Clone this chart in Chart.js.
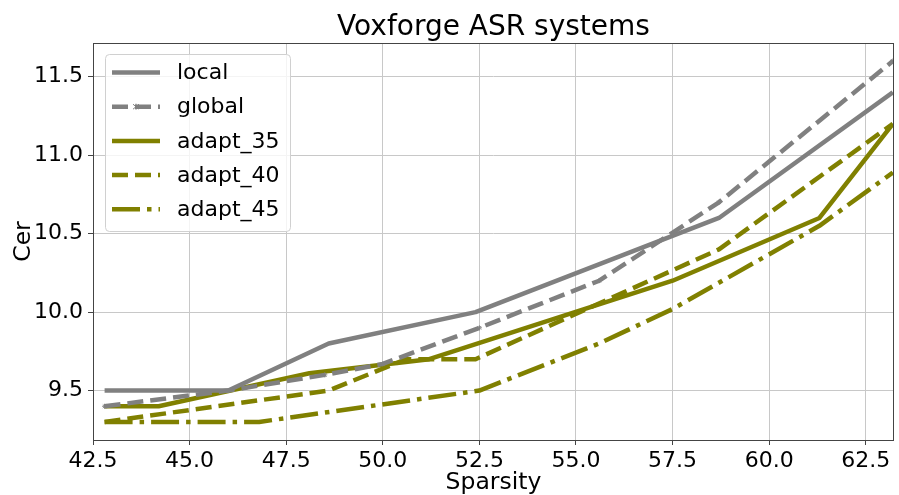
<!DOCTYPE html>
<html>
<head>
<meta charset="utf-8">
<script src="https://cdn.jsdelivr.net/npm/chart.js@4.4.0/dist/chart.umd.min.js"></script>
<style>
  html, body { margin: 0; padding: 0; background: #fff; }
  #wrap { width: 899px; height: 495px; }
</style>
</head>
<body>
<div id="wrap"><canvas id="chart" width="899" height="495"></canvas></div>
<script>
// tick labels
const xTicks = [42.5, 45.0, 47.5, 50.0, 52.5, 55.0, 57.5, 60.0, 62.5];
const yTicks = [9.5, 10.0, 10.5, 11.0, 11.5];

// series (sparsity -> cer)
const localX = [42.8, 46.0, 48.6, 52.4, 58.7, 63.2];
const localY = [9.5, 9.5, 9.8, 10.0, 10.6, 11.4];

const globalX = [42.8, 46.0, 48.5, 50.0, 52.5, 55.6, 58.7, 63.2];
const globalY = [9.4, 9.5, 9.6, 9.67, 9.9, 10.2, 10.7, 11.6];

const adapt35X = [42.8, 44.2, 48.1, 51.2, 57.5, 61.3, 63.2];
const adapt35Y = [9.4, 9.4, 9.61, 9.7, 10.2, 10.6, 11.2];

const adapt40X = [42.8, 48.6, 50.6, 52.4, 58.7, 63.2];
const adapt40Y = [9.3, 9.5, 9.7, 9.7, 10.4, 11.2];

const adapt45X = [42.8, 46.8, 52.5, 55.6, 57.5, 61.3, 63.2];
const adapt45Y = [9.3, 9.3, 9.5, 9.8, 10.02, 10.55, 10.89];

const GRAY = '#808080';
const OLIVE = '#808000';
const LW = 4.5;
const FONT = "'DejaVu Sans', sans-serif";

const pts = (xs, ys) => xs.map((x, i) => ({ x: x, y: ys[i] }));

function series(label, xs, ys, color, dash, marker) {
  return {
    label: label,
    data: pts(xs, ys),
    showLine: true,
    borderColor: color,
    backgroundColor: color,
    borderWidth: LW,
    borderDash: dash,
    borderCapStyle: 'butt',
    borderJoinStyle: 'round',
    pointRadius: marker ? 2.5 : 0,
    pointStyle: marker || 'circle',
    pointBorderWidth: 1,
    tension: 0,
    fill: false,
  };
}

// frame, title, axis titles and the legend box
const decor = {
  id: 'decor',
  afterDraw(chart) {
    const ctx = chart.ctx;
    const a = chart.chartArea;
    ctx.save();
    ctx.strokeStyle = '#444';
    ctx.lineWidth = 1;
    ctx.strokeRect(a.left + 0.5, a.top + 0.5, a.right - a.left - 1, a.bottom - a.top);

    ctx.fillStyle = '#000';
    ctx.textAlign = 'center';
    ctx.textBaseline = 'alphabetic';
    ctx.font = '28px ' + FONT;
    ctx.fillText('Voxforge ASR systems', (a.left + a.right) / 2, 35);

    ctx.font = '23.5px ' + FONT;
    ctx.textBaseline = 'middle';
    ctx.fillText('Sparsity', (a.left + a.right) / 2, 483);
    ctx.save();
    ctx.translate(24, (a.top + a.bottom) / 2);
    ctx.rotate(-Math.PI / 2);
    ctx.fillText('Cer', 0, 0);
    ctx.restore();

    // legend
    const bx = 105, by = 54, bw = 185, bh = 177;
    ctx.fillStyle = 'rgba(255,255,255,0.8)';
    ctx.strokeStyle = '#d0d0d0';
    ctx.beginPath();
    ctx.roundRect(bx + 0.5, by + 0.5, bw, bh, 4);
    ctx.fill();
    ctx.stroke();
    ctx.textAlign = 'left';
    ctx.font = '22px ' + FONT;
    chart.data.datasets.forEach((ds, i) => {
      const y = 72.5 + i * 34.2;
      ctx.strokeStyle = ds.borderColor;
      ctx.lineWidth = LW;
      ctx.lineCap = 'butt';
      ctx.setLineDash(ds.borderDash || []);
      ctx.beginPath();
      ctx.moveTo(112, y);
      ctx.lineTo(160, y);
      ctx.stroke();
      ctx.setLineDash([]);
      if (ds.pointRadius > 0) {
        ctx.lineWidth = 1;
        ctx.strokeStyle = ds.borderColor;
        ctx.beginPath();
        ctx.moveTo(133, y - 2.5); ctx.lineTo(139, y + 2.5);
        ctx.moveTo(139, y - 2.5); ctx.lineTo(133, y + 2.5);
        ctx.moveTo(136, y - 3); ctx.lineTo(136, y + 3);
        ctx.stroke();
      }
      ctx.fillStyle = '#000';
      ctx.fillText(ds.label, 177, y + 1);
    });
    ctx.restore();
  }
};

new Chart(document.getElementById('chart'), {
  type: 'scatter',
  data: {
    datasets: [
      series('local', localX, localY, GRAY, []),
      series('global', globalX, globalY, GRAY, [16, 7], 'star'),
      series('adapt_35', adapt35X, adapt35Y, OLIVE, []),
      series('adapt_40', adapt40X, adapt40Y, OLIVE, [16, 7]),
      series('adapt_45', adapt45X, adapt45Y, OLIVE, [28, 7, 4.5, 7]),
    ]
  },
  options: {
    responsive: false,
    animation: false,
    layout: { padding: { top: 43, right: 1, left: 0, bottom: 0 } },
    plugins: {
      legend: { display: false },
      title: { display: false },
      tooltip: { enabled: false },
    },
    scales: {
      x: {
        type: 'linear',
        min: 42.5,
        max: 63.23,
        afterFit(scale) { scale.height = 55; },
        afterBuildTicks(scale) { scale.ticks = xTicks.map(v => ({ value: v })); },
        grid: { color: '#c8c8c8', lineWidth: 1, tickColor: '#444', tickLength: 5, drawTicks: true },
        border: { display: false },
        ticks: {
          color: '#000',
          font: { family: FONT, size: 22 },
          padding: 3,
          maxRotation: 0,
          autoSkip: false,
          callback: v => v.toFixed(1),
        },
      },
      y: {
        type: 'linear',
        min: 9.185,
        max: 11.715,
        afterFit(scale) { scale.width = 93; },
        afterBuildTicks(scale) { scale.ticks = yTicks.map(v => ({ value: v })); },
        grid: { color: '#c8c8c8', lineWidth: 1, tickColor: '#444', tickLength: 5, drawTicks: true },
        border: { display: false },
        ticks: {
          color: '#000',
          font: { family: FONT, size: 22 },
          padding: 5,
          autoSkip: false,
          callback: v => v.toFixed(1),
        },
      },
    },
  },
  plugins: [decor],
});
</script>
</body>
</html>
